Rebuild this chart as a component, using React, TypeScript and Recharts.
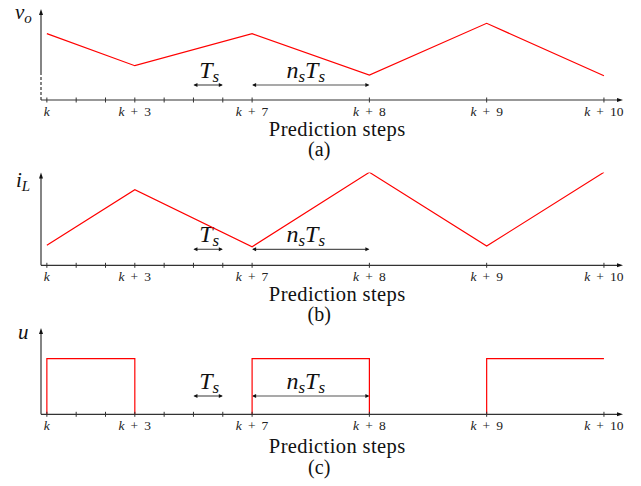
import React from "react";
import { LineChart, Line, XAxis, YAxis, ReferenceLine } from "recharts";

// sampling instants (in units of Ts) where the waveforms change slope
const steps = [0, 3, 7, 11, 15, 19];
const tickSteps = [0, 1, 2, 3, 4, 5, 6, 7, 11, 15, 19];
const tickLabels: Record<number, string> = { 0: "", 3: "3", 7: "7", 11: "8", 15: "9", 19: "10" };

const voValues = [66.4, 34.3, 66.3, 25, 76.7, 24.3];
const iLValues = [20, 75.6, 18.6, 93, 19.3, 93];

// switching signal, null breaks the trace between pulses
const uSteps = [0, 0, 3, 3, 5, 7, 7, 11, 11, 13, 15, 15, 19];
const uValues = [0, 55.6, 55.6, 0, null, 0, 55.6, 55.6, 0, null, 0, 55.6, 55.6];

const tsSpan = [5, 6];
const nsTsSpan = [7, 11];

const X_MIN = -0.2;
const X_MAX = 19.65;
const AXIS = "#333";
const RED = "#ff0000";
const SERIF = '"Liberation Serif", "DejaVu Serif", "Noto Serif", "Times New Roman", serif';
const serif = { fontFamily: SERIF };

const voData = steps.map((x, i) => ({ x, v: voValues[i] }));
const iLData = steps.map((x, i) => ({ x, v: iLValues[i] }));
const uData = uSteps.map((x, i) => ({ x, v: uValues[i] }));

function StepTick(props: any) {
  const { x, y, payload } = props;
  const lab = tickLabels[payload.value];
  return (
    <g>
      <line x1={x} x2={x} y1={y - 2.5} y2={y + 2.5} stroke={AXIS} strokeWidth={1} />
      {lab !== undefined && (
        <text x={x} y={y + 16} textAnchor="middle" style={serif} fontSize={13.5} fill="#222">
          <tspan fontStyle="italic">k</tspan>
          {lab && <tspan>{"\u00A0\u2009+\u00A0\u2009" + lab}</tspan>}
        </text>
      )}
    </g>
  );
}

function arrowShape(kind: "ts" | "nsts") {
  return (props: any) => {
    const { x1, y1, x2 } = props;
    const h = 4;
    return (
      <g>
        <line x1={x1 + 1} x2={x2 - 1} y1={y1} y2={y1} stroke="#555" strokeWidth={1.2} />
        <polygon points={`${x1},${y1} ${x1 + h},${y1 - 2} ${x1 + h},${y1 + 2}`} fill="#111" />
        <polygon points={`${x2},${y1} ${x2 - h},${y1 - 2} ${x2 - h},${y1 + 2}`} fill="#111" />
        {kind === "ts" ? (
          <text x={(x1 + x2) / 2 + 1} y={y1 - 7} textAnchor="middle" style={serif} fill="#111">
            <tspan fontStyle="italic" fontSize={24}>T</tspan>
            <tspan fontStyle="italic" fontSize={17} dy={4}>s</tspan>
          </text>
        ) : (
          <text x={(x1 + x2) / 2 - 5} y={y1 - 7} textAnchor="middle" style={serif} fill="#111">
            <tspan fontStyle="italic" fontSize={24}>n</tspan>
            <tspan fontStyle="italic" fontSize={17} dy={4}>s</tspan>
            <tspan fontStyle="italic" fontSize={24} dy={-4}>T</tspan>
            <tspan fontStyle="italic" fontSize={17} dy={4}>s</tspan>
          </text>
        )}
      </g>
    );
  };
}

function yAxisShape(name: string, sub: string, dx: number, dy: number) {
  return (props: any) => {
    const { x1, y1, x2, y2 } = props;
    return (
      <g>
        <line x1={x1} x2={x2} y1={y1} y2={y2 + 3} stroke={AXIS} strokeWidth={1.2} />
        <polygon points={`${x2},${y2} ${x2 - 2},${y2 + 6} ${x2 + 2},${y2 + 6}`} fill="#111" />
        <text x={x2 + dx} y={y2 + dy} style={serif} fill="#111">
          <tspan fontStyle="italic" fontSize={21}>{name}</tspan>
          {sub && <tspan fontStyle="italic" fontSize={15} dy={4}>{sub}</tspan>}
        </text>
      </g>
    );
  };
}

function xAxisShape(caption: string, capY: number, letterY: number) {
  return (props: any) => {
    const { x1, y1, x2 } = props;
    const w = x2 - x1;
    return (
      <g>
        <line x1={x1} x2={x2 - 3} y1={y1} y2={y1} stroke={AXIS} strokeWidth={1.2} />
        <polygon points={`${x2},${y1} ${x2 - 6},${y1 - 2} ${x2 - 6},${y1 + 2}`} fill="#111" />
        <text x={x1 + 0.509 * w} y={y1 + capY} textAnchor="middle" style={serif} fontSize={20.5} letterSpacing={0.4} fill="#111">
          Prediction steps
        </text>
        <text x={x1 + 0.478 * w} y={y1 + letterY} textAnchor="middle" style={serif} fontSize={20} fill="#111">
          {caption}
        </text>
      </g>
    );
  };
}

interface PanelProps {
  data: { x: number; v: number | null }[];
  yMax: number;
  marginTop: number;
  axisH: number;
  arrowY: number;
  dashTo: number;
  name: string;
  sub: string;
  labelDx: number;
  labelDy: number;
  caption: string;
  capY: number;
  letterY: number;
}

function Panel(p: PanelProps) {
  return (
    <LineChart
      width={641}
      height={162}
      data={p.data}
      margin={{ top: p.marginTop, right: 18, bottom: 0, left: 41 }}
    >
      <XAxis
        dataKey="x"
        type="number"
        domain={[X_MIN, X_MAX]}
        allowDataOverflow
        ticks={tickSteps}
        interval={0}
        axisLine={false}
        tickLine={false}
        tickSize={0}
        tickMargin={0}
        height={p.axisH}
        tick={<StepTick />}
      />
      <YAxis type="number" domain={[0, p.yMax]} allowDataOverflow hide />
      {p.dashTo > 0 && (
        <ReferenceLine
          segment={[{ x: X_MIN, y: 0 }, { x: X_MIN, y: p.dashTo }]}
          stroke={AXIS}
          strokeWidth={1.2}
          strokeDasharray="3 2"
          ifOverflow="visible"
        />
      )}
      <ReferenceLine
        segment={[{ x: X_MIN, y: p.dashTo }, { x: X_MIN, y: p.yMax }]}
        ifOverflow="visible"
        shape={yAxisShape(p.name, p.sub, p.labelDx, p.labelDy)}
      />
      <ReferenceLine
        segment={[{ x: X_MIN, y: 0 }, { x: X_MAX, y: 0 }]}
        ifOverflow="visible"
        shape={xAxisShape(p.caption, p.capY, p.letterY)}
      />
      <ReferenceLine
        segment={[{ x: tsSpan[0], y: p.arrowY }, { x: tsSpan[1], y: p.arrowY }]}
        ifOverflow="visible"
        shape={arrowShape("ts")}
      />
      <ReferenceLine
        segment={[{ x: nsTsSpan[0], y: p.arrowY }, { x: nsTsSpan[1], y: p.arrowY }]}
        ifOverflow="visible"
        shape={arrowShape("nsts")}
      />
      <Line type="linear" dataKey="v" stroke={RED} strokeWidth={1.2} dot={false} isAnimationActive={false} connectNulls={false} />
    </LineChart>
  );
}

export default function App() {
  return (
    <div style={{ position: "absolute", left: 0, top: 0, width: 641, height: 486, background: "#fff" }}>
      <style>{".recharts-surface { overflow: visible; }"}</style>
      <Panel data={voData} yMax={91} marginTop={9} axisH={62} arrowY={15} dashTo={28}
        name="v" sub="o" labelDx={-26} labelDy={10} caption="(a)" capY={36} letterY={56} />
      <Panel data={iLData} yMax={92.8} marginTop={10.5} axisH={58.7} arrowY={16} dashTo={0}
        name="i" sub="L" labelDx={-25} labelDy={14.5} caption="(b)" capY={35.5} letterY={56} />
      <Panel data={uData} yMax={86.3} marginTop={4} axisH={71.7} arrowY={18.3} dashTo={0}
        name="u" sub="" labelDx={-23} labelDy={11} caption="(c)" capY={39} letterY={60} />
    </div>
  );
}
